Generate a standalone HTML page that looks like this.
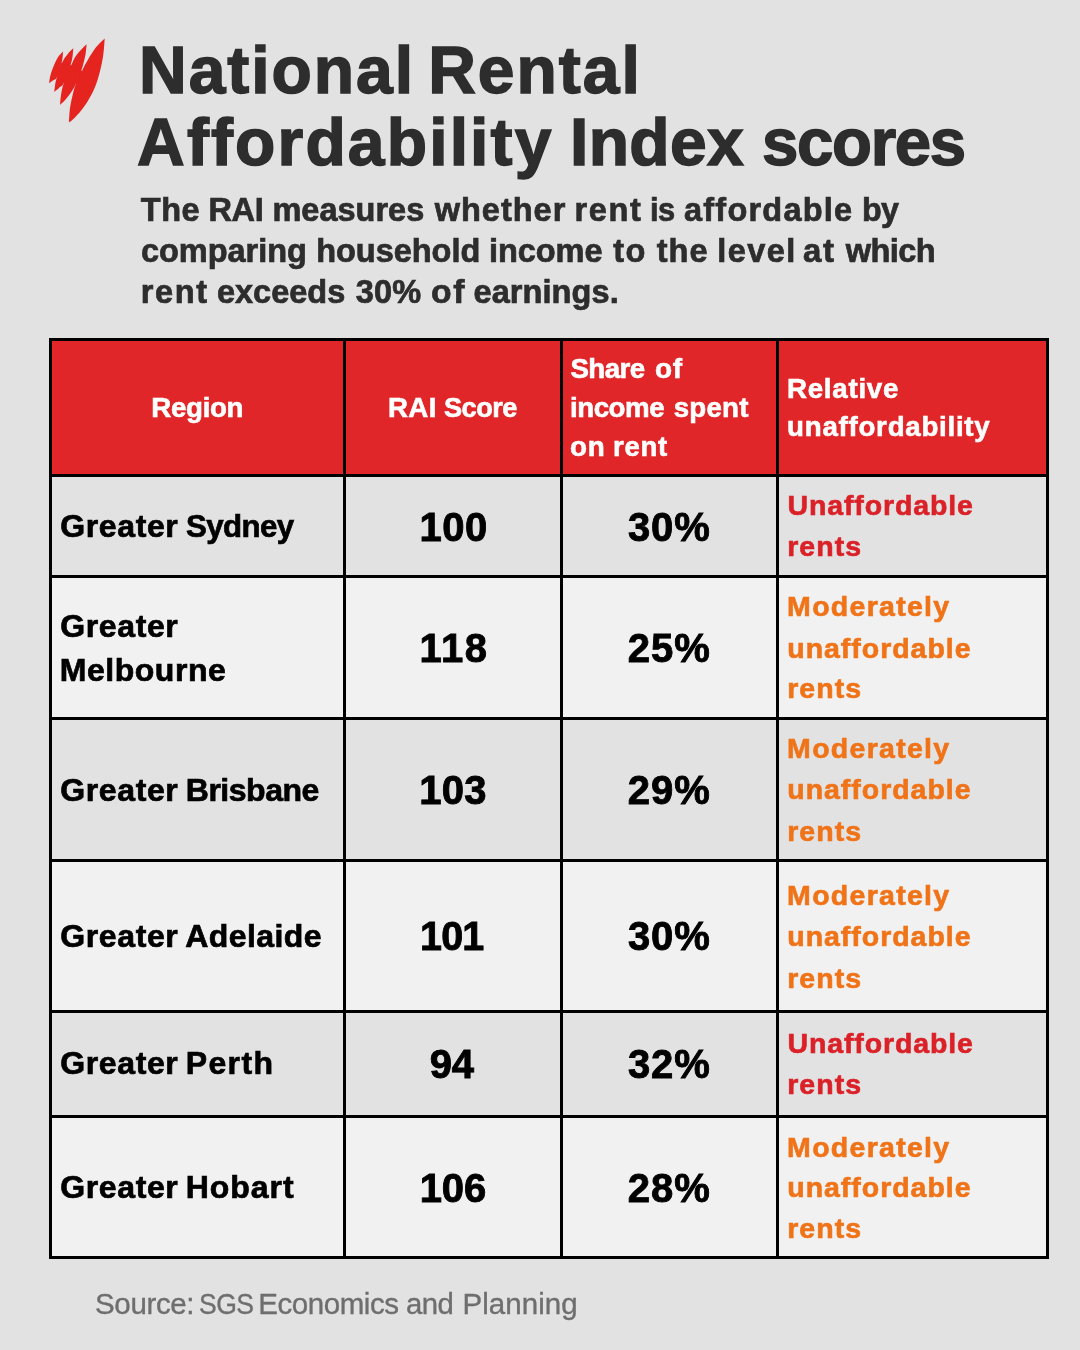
<!DOCTYPE html>
<html lang="en">
<head>
<meta charset="utf-8">
<title>National Rental Affordability Index scores</title>
<style>
html,body{margin:0;padding:0}
body{width:1080px;height:1350px;background:#E2E2E2;position:relative;overflow:hidden;font-family:"Liberation Sans",sans-serif;font-weight:700}
.ln{position:absolute;left:0;top:0;width:0;height:0;margin:0;padding:0;font-weight:inherit}
.ln span{position:absolute;white-space:nowrap;line-height:1;transform-origin:0 0}
.grid{position:absolute;background:#000}
.grid div{position:absolute}
.g0{font-size:66px;color:#2D2D2D;-webkit-text-stroke:1.45px #2D2D2D}
.g1{font-size:32.5px;color:#2D2D2D;-webkit-text-stroke:0.71px #2D2D2D}
.g2{font-size:27.7px;color:#fff;-webkit-text-stroke:0.61px #fff}
.g3{font-size:32px;color:#000;-webkit-text-stroke:0.7px #000}
.g4{font-size:40px;color:#000;-webkit-text-stroke:0.88px #000}
.g5{font-size:28.5px;color:#DB2128;-webkit-text-stroke:0.63px #DB2128}
.g6{font-size:28.5px;color:#F07318;-webkit-text-stroke:0.63px #F07318}
.g7{font-size:29.5px;color:#6E6E6E;font-weight:400;-webkit-text-stroke:0.35px #6E6E6E}
</style>
</head>
<body>
<svg class="logo" width="80" height="110" viewBox="40 25 80 110" style="position:absolute;left:40px;top:25px"><g fill="#E5231F"><path d="M63.1 51.4C62.9 53.2 62.8 57.8 61.8 62.0C60.8 66.2 58.5 73.8 57.0 76.9C55.5 80.0 54.2 79.4 52.9 80.4C51.6 81.4 49.7 82.6 49.1 83.1C49.3 81.7 49.6 78.0 50.5 74.9C51.4 71.8 52.8 67.9 54.2 64.7C55.6 61.5 57.5 58.0 59.0 55.8C60.5 53.6 62.4 52.1 63.1 51.4Z"/><path d="M73.3 48.3C73.2 49.6 73.0 53.2 72.6 56.0C72.1 58.8 72.1 60.3 70.6 64.8C69.1 69.3 65.7 79.2 63.8 83.1C61.9 86.9 60.6 86.4 59.0 87.9C57.4 89.4 55.0 91.2 54.2 91.9C54.4 90.7 54.7 86.9 55.2 84.4C55.7 81.9 55.7 80.8 57.0 76.9C58.3 73.1 61.2 65.0 62.9 61.3C64.6 57.5 65.7 56.6 67.4 54.4C69.1 52.2 72.3 49.3 73.3 48.3Z"/><path d="M86.6 44.2C86.4 45.9 86.3 50.1 85.5 54.4C84.7 58.7 83.1 65.1 81.5 70.0C79.9 74.9 77.7 80.1 76.0 83.8C74.3 87.5 73.2 89.1 71.3 91.9C69.4 94.7 66.3 98.6 64.4 100.8C62.5 103.0 60.7 104.2 60.0 104.9C60.2 103.3 60.4 98.9 61.0 95.3C61.6 91.7 62.0 88.3 63.8 83.1C65.6 77.9 69.6 68.8 71.8 64.0C74.0 59.2 74.4 57.7 76.9 54.4C79.4 51.1 85.0 45.9 86.6 44.2Z"/><path d="M104.7 38.4C104.5 41.1 104.1 48.9 103.3 54.4C102.5 59.9 101.4 65.8 99.9 71.5C98.4 77.2 96.9 82.8 94.4 88.5C91.9 94.2 88.2 100.7 84.9 105.6C81.6 110.5 77.4 115.0 74.7 117.8C72.0 120.6 69.9 121.8 68.9 122.6C69.1 120.3 69.3 113.5 69.9 109.0C70.5 104.5 71.6 99.5 72.6 95.3C73.6 91.1 74.3 88.1 76.0 83.8C77.7 79.5 80.7 73.4 82.7 69.4C84.7 65.4 85.6 63.5 87.8 59.9C90.0 56.3 93.0 51.2 95.8 47.6C98.6 44.0 103.2 39.9 104.7 38.4Z"/><path d="M62.1 63 70.8 66 81.8 71.6 76.8 83 64.2 82.2 57.8 76Z" stroke="#E5231F" stroke-width="1.2" stroke-linejoin="round"/></g></svg>
<div class="grid" style="left:49px;top:338px;width:1000px;height:921px">
<div style="left:3px;top:3px;width:291px;height:133px;background:#E02628"></div>
<div style="left:297px;top:3px;width:214px;height:133px;background:#E02628"></div>
<div style="left:514px;top:3px;width:213px;height:133px;background:#E02628"></div>
<div style="left:730px;top:3px;width:267px;height:133px;background:#E02628"></div>
<div style="left:3px;top:139px;width:291px;height:98px;background:#E2E2E2"></div>
<div style="left:297px;top:139px;width:214px;height:98px;background:#E2E2E2"></div>
<div style="left:514px;top:139px;width:213px;height:98px;background:#E2E2E2"></div>
<div style="left:730px;top:139px;width:267px;height:98px;background:#E2E2E2"></div>
<div style="left:3px;top:240px;width:291px;height:139px;background:#F1F1F1"></div>
<div style="left:297px;top:240px;width:214px;height:139px;background:#F1F1F1"></div>
<div style="left:514px;top:240px;width:213px;height:139px;background:#F1F1F1"></div>
<div style="left:730px;top:240px;width:267px;height:139px;background:#F1F1F1"></div>
<div style="left:3px;top:382px;width:291px;height:139px;background:#E2E2E2"></div>
<div style="left:297px;top:382px;width:214px;height:139px;background:#E2E2E2"></div>
<div style="left:514px;top:382px;width:213px;height:139px;background:#E2E2E2"></div>
<div style="left:730px;top:382px;width:267px;height:139px;background:#E2E2E2"></div>
<div style="left:3px;top:524px;width:291px;height:148px;background:#F1F1F1"></div>
<div style="left:297px;top:524px;width:214px;height:148px;background:#F1F1F1"></div>
<div style="left:514px;top:524px;width:213px;height:148px;background:#F1F1F1"></div>
<div style="left:730px;top:524px;width:267px;height:148px;background:#F1F1F1"></div>
<div style="left:3px;top:675px;width:291px;height:102px;background:#E2E2E2"></div>
<div style="left:297px;top:675px;width:214px;height:102px;background:#E2E2E2"></div>
<div style="left:514px;top:675px;width:213px;height:102px;background:#E2E2E2"></div>
<div style="left:730px;top:675px;width:267px;height:102px;background:#E2E2E2"></div>
<div style="left:3px;top:780px;width:291px;height:138px;background:#F1F1F1"></div>
<div style="left:297px;top:780px;width:214px;height:138px;background:#F1F1F1"></div>
<div style="left:514px;top:780px;width:213px;height:138px;background:#F1F1F1"></div>
<div style="left:730px;top:780px;width:267px;height:138px;background:#F1F1F1"></div>
</div>
<div class="ln g0"><span style="left:139.05px;top:36.7px;letter-spacing:1.94px;">National</span> <span style="left:428.19px;top:36.7px;letter-spacing:1.99px;">Rental</span></div>
<div class="ln g0"><span style="left:137.09px;top:109.4px;letter-spacing:2.14px;">Affordability</span> <span style="left:570.03px;top:109.4px;letter-spacing:0.35px;">Index</span> <span style="left:762.25px;top:109.4px;letter-spacing:-1.32px;transform:scaleX(0.9903);">scores</span></div>
<div class="ln g1"><span style="left:140.77px;top:193.6px;letter-spacing:0.52px;">The</span> <span style="left:208.49px;top:193.6px;letter-spacing:-0.35px;">RAI</span> <span style="left:272.43px;top:193.6px;letter-spacing:0.01px;">measures</span> <span style="left:434.7px;top:193.6px;letter-spacing:1.01px;">whether</span> <span style="left:574.46px;top:193.6px;letter-spacing:1.62px;">rent</span> <span style="left:649.56px;top:193.6px;letter-spacing:-0.65px;transform:scaleX(0.9488);">is</span> <span style="left:684px;top:193.6px;letter-spacing:1.23px;">affordable</span> <span style="left:861.73px;top:193.6px;letter-spacing:-0.65px;transform:scaleX(0.9917);">by</span></div>
<div class="ln g1"><span style="left:140.89px;top:234.6px;letter-spacing:-0.02px;">comparing</span> <span style="left:316.16px;top:234.6px;letter-spacing:-0.02px;">household</span> <span style="left:488.89px;top:234.6px;letter-spacing:-0.02px;">income</span> <span style="left:613.24px;top:234.6px;letter-spacing:1.51px;">to</span> <span style="left:656.69px;top:234.6px;letter-spacing:1.09px;">the</span> <span style="left:717.32px;top:234.6px;letter-spacing:1.39px;">level</span> <span style="left:803.22px;top:234.6px;letter-spacing:1.62px;transform:scaleX(1.0151);">at</span> <span style="left:845.64px;top:234.6px;letter-spacing:-0.52px;">which</span></div>
<div class="ln g1"><span style="left:140.81px;top:275.6px;letter-spacing:1.62px;">rent</span> <span style="left:216.92px;top:275.6px;">exceeds</span> <span style="left:355.64px;top:275.6px;letter-spacing:0.2px;">30%</span> <span style="left:431.11px;top:275.6px;letter-spacing:1.62px;transform:scaleX(1.0348);">of</span> <span style="left:473.54px;top:275.6px;letter-spacing:0.08px;">earnings.</span></div>
<div class="ln g2"><span style="left:151.36px;top:393.7px;letter-spacing:-0.34px;">Region</span></div>
<div class="ln g2"><span style="left:387.89px;top:393.7px;letter-spacing:0.46px;">RAI</span> <span style="left:443.83px;top:393.7px;letter-spacing:-0.55px;transform:scaleX(0.9825);">Score</span></div>
<div class="ln g2"><span style="left:570.42px;top:355px;letter-spacing:-0.54px;">Share</span> <span style="left:654.8px;top:355px;letter-spacing:0.62px;transform:scaleX(1.0084);">of</span></div>
<div class="ln g2"><span style="left:570.01px;top:393.7px;letter-spacing:-0.46px;">income</span> <span style="left:673.67px;top:393.7px;letter-spacing:0.24px;">spent</span></div>
<div class="ln g2"><span style="left:570.42px;top:433px;letter-spacing:0.81px;transform:scaleX(1.0046);">on</span> <span style="left:613.2px;top:433px;letter-spacing:0.7px;transform:scaleX(0.9957);">rent</span></div>
<div class="ln g2"><span style="left:787.01px;top:374.5px;letter-spacing:0.74px;">Relative</span></div>
<div class="ln g2"><span style="left:787.1px;top:413.3px;letter-spacing:0.74px;">unaffordability</span></div>
<div class="ln g3"><span style="left:60.34px;top:510px;letter-spacing:0.6px;">Greater</span> <span style="left:186.28px;top:510px;letter-spacing:-0.64px;transform:scaleX(0.9767);">Sydney</span></div>
<div class="ln g3"><span style="left:60.34px;top:609.9px;letter-spacing:0.6px;">Greater</span></div>
<div class="ln g3"><span style="left:59.84px;top:653.6px;letter-spacing:0.52px;">Melbourne</span></div>
<div class="ln g3"><span style="left:60.34px;top:773.6px;letter-spacing:0.6px;">Greater</span> <span style="left:185.75px;top:773.6px;letter-spacing:-0.48px;">Brisbane</span></div>
<div class="ln g3"><span style="left:60.34px;top:919.9px;letter-spacing:0.6px;">Greater</span> <span style="left:185.26px;top:919.9px;letter-spacing:0.43px;">Adelaide</span></div>
<div class="ln g3"><span style="left:60.34px;top:1047.4px;letter-spacing:0.6px;">Greater</span> <span style="left:185.68px;top:1047.4px;letter-spacing:1.38px;">Perth</span></div>
<div class="ln g3"><span style="left:60.34px;top:1171.3px;letter-spacing:0.6px;">Greater</span> <span style="left:185.73px;top:1171.3px;letter-spacing:0.96px;">Hobart</span></div>
<div class="ln g4"><span style="left:419.59px;top:506.6px;letter-spacing:0.45px;">100</span></div>
<div class="ln g4"><span style="left:628.01px;top:506.6px;letter-spacing:0.82px;">30%</span></div>
<div class="ln g4"><span style="left:419.57px;top:628px;letter-spacing:1.43px;">118</span></div>
<div class="ln g4"><span style="left:627.73px;top:628px;letter-spacing:0.98px;">25%</span></div>
<div class="ln g4"><span style="left:419.24px;top:769.7px;letter-spacing:0.22px;">103</span></div>
<div class="ln g4"><span style="left:627.73px;top:769.7px;letter-spacing:0.98px;">29%</span></div>
<div class="ln g4"><span style="left:419.74px;top:916.2px;letter-spacing:-0.8px;transform:scaleX(0.9862);">101</span></div>
<div class="ln g4"><span style="left:628.01px;top:916.2px;letter-spacing:0.82px;">30%</span></div>
<div class="ln g4"><span style="left:429.74px;top:1043.7px;letter-spacing:-0.34px;">94</span></div>
<div class="ln g4"><span style="left:628.01px;top:1043.7px;letter-spacing:0.82px;">32%</span></div>
<div class="ln g4"><span style="left:419.64px;top:1167.9px;">106</span></div>
<div class="ln g4"><span style="left:627.73px;top:1167.9px;letter-spacing:0.98px;">28%</span></div>
<div class="ln g5"><span style="left:787.43px;top:491.4px;letter-spacing:0.89px;">Unaffordable</span></div>
<div class="ln g5"><span style="left:787.13px;top:532.4px;letter-spacing:1.09px;">rents</span></div>
<div class="ln g6"><span style="left:787.12px;top:592px;letter-spacing:1.29px;">Moderately</span></div>
<div class="ln g6"><span style="left:787.26px;top:633.5px;letter-spacing:0.97px;">unaffordable</span></div>
<div class="ln g6"><span style="left:787.13px;top:674.2px;letter-spacing:1.09px;">rents</span></div>
<div class="ln g6"><span style="left:787.12px;top:734.4px;letter-spacing:1.29px;">Moderately</span></div>
<div class="ln g6"><span style="left:787.26px;top:775.1px;letter-spacing:0.97px;">unaffordable</span></div>
<div class="ln g6"><span style="left:787.13px;top:816.6px;letter-spacing:1.09px;">rents</span></div>
<div class="ln g6"><span style="left:787.12px;top:881.4px;letter-spacing:1.29px;">Moderately</span></div>
<div class="ln g6"><span style="left:787.26px;top:922.3px;letter-spacing:0.97px;">unaffordable</span></div>
<div class="ln g6"><span style="left:787.13px;top:963.6px;letter-spacing:1.09px;">rents</span></div>
<div class="ln g5"><span style="left:787.43px;top:1028.8px;letter-spacing:0.89px;">Unaffordable</span></div>
<div class="ln g5"><span style="left:787.13px;top:1070.3px;letter-spacing:1.09px;">rents</span></div>
<div class="ln g6"><span style="left:787.12px;top:1132.5px;letter-spacing:1.29px;">Moderately</span></div>
<div class="ln g6"><span style="left:787.26px;top:1173.2px;letter-spacing:0.97px;">unaffordable</span></div>
<div class="ln g6"><span style="left:787.13px;top:1214.2px;letter-spacing:1.09px;">rents</span></div>
<div class="ln g7"><span style="left:95.05px;top:1289.1px;letter-spacing:-0.36px;">Source:</span> <span style="left:198.53px;top:1289.1px;letter-spacing:-0.59px;transform:scaleX(0.9);">SGS</span> <span style="left:258.15px;top:1289.1px;letter-spacing:-0.43px;">Economics</span> <span style="left:406.38px;top:1289.1px;letter-spacing:-0.59px;transform:scaleX(0.9939);">and</span> <span style="left:462.56px;top:1289.1px;letter-spacing:0.03px;">Planning</span></div>
</body>
</html>
